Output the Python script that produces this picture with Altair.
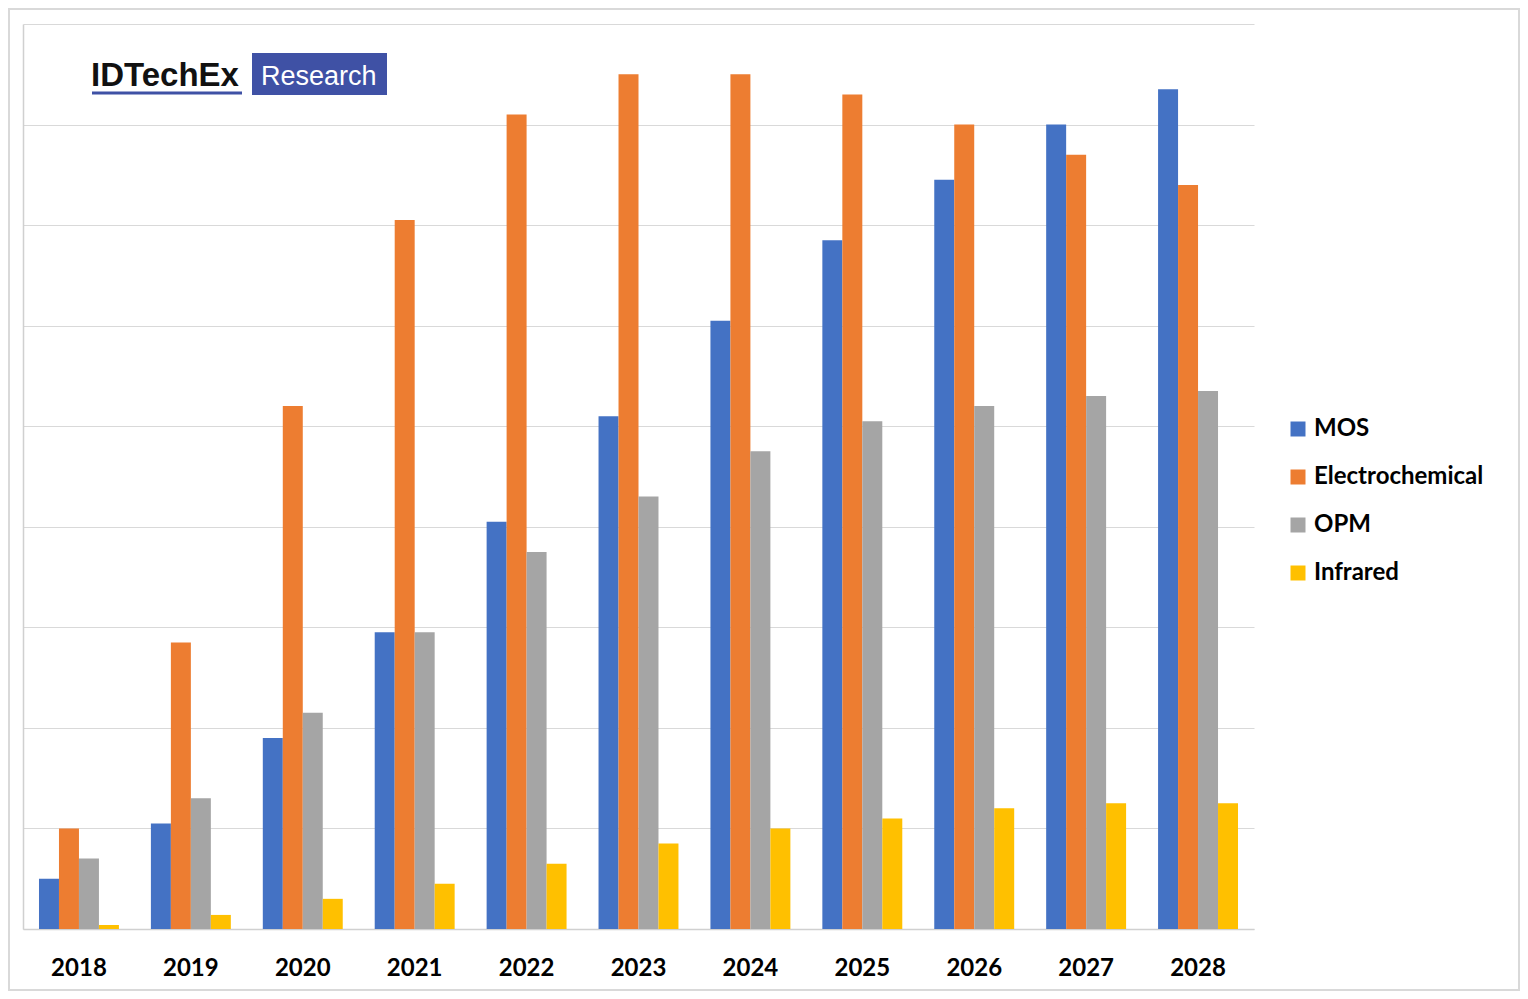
import altair as alt
import pandas as pd

years = ["2018", "2019", "2020", "2021", "2022", "2023", "2024", "2025", "2026", "2027", "2028"]
series = ["MOS", "Electrochemical", "OPM", "Infrared"]
mos = [0.5, 1.05, 1.9, 2.95, 4.05, 5.1, 6.05, 6.85, 7.45, 8.0, 8.35]
electro = [1.0, 2.85, 5.2, 7.05, 8.1, 8.5, 8.5, 8.3, 8.0, 7.7, 7.4]
opm = [0.7, 1.3, 2.15, 2.95, 3.75, 4.3, 4.75, 5.05, 5.2, 5.3, 5.35]
infrared = [0.04, 0.14, 0.3, 0.45, 0.65, 0.85, 1.0, 1.1, 1.2, 1.25, 1.25]
colors = ["#4472C4", "#ED7D31", "#A5A5A5", "#FFC000"]

rows = []
for name, vals in zip(series, [mos, electro, opm, infrared]):
    for y, v in zip(years, vals):
        rows.append({"year": y, "series": name, "value": v})
df = pd.DataFrame(rows)

W, H = 1231, 905
FONT = "Lato"

bars = alt.Chart(df).mark_bar().encode(
    x=alt.X("year:N", sort=years, title=None,
            scale=alt.Scale(paddingInner=0.2857, paddingOuter=0.1429),
            axis=alt.Axis(labelAngle=0, labelFontSize=24, labelFont=FONT, labelFontWeight="bold",
                          labelColor="#000000", labelPadding=27, ticks=False,
                          domainColor="#D0D0D0", domainWidth=1.5, grid=False)),
    xOffset=alt.XOffset("series:N", sort=series, scale=alt.Scale(paddingInner=0, paddingOuter=0)),
    y=alt.Y("value:Q", title=None, scale=alt.Scale(domain=[0, 9], nice=False),
            axis=alt.Axis(values=list(range(10)), labels=False, ticks=False,
                          domainColor="#D0D0D0", domainWidth=1.5,
                          gridColor="#D9D9D9", gridWidth=1)),
    color=alt.Color("series:N", sort=series,
                    scale=alt.Scale(domain=series, range=colors),
                    legend=alt.Legend(title=None, orient="none", legendX=1263, legendY=393,
                                      symbolType="square", symbolSize=225, symbolStrokeWidth=0,
                                      labelFontSize=24, labelFont=FONT, labelFontWeight="bold",
                                      labelColor="#000000", rowPadding=24, labelOffset=4,
                                      labelLimit=0, padding=0)),
)

one = pd.DataFrame({"a": [1]})
logo_text = alt.Chart(one).mark_text(text="IDTechEx", font="Liberation Sans", fontSize=33,
                                     fontWeight="bold", align="left", baseline="alphabetic",
                                     color="#111111").encode(x=alt.value(68), y=alt.value(62))
logo_line = alt.Chart(one).mark_rule(color="#3F51A5", strokeWidth=3).encode(
    x=alt.value(69), x2=alt.value(219), y=alt.value(69))
logo_box = alt.Chart(one).mark_rect(color="#3F51A5").encode(
    x=alt.value(229), x2=alt.value(364), y=alt.value(29), y2=alt.value(71))
logo_box_text = alt.Chart(one).mark_text(text="Research", font="Liberation Sans", fontSize=27,
                                         align="left", baseline="alphabetic",
                                         color="#FFFFFF").encode(x=alt.value(238), y=alt.value(61))
border = alt.Chart(one).mark_rect(fill=None, stroke="#D9D9D9", strokeWidth=2, clip=False).encode(
    x=alt.value(-14), x2=alt.value(1496), y=alt.value(-15), y2=alt.value(966))

chart = alt.layer(bars, logo_text, logo_line, logo_box, logo_box_text, border).properties(
    width=W, height=H, autosize=alt.AutoSizeParams(type="none"),
    padding={"left": 15, "top": 16, "right": 266, "bottom": 62},
    background="#FFFFFF",
).configure_view(stroke=None)

chart.save("out.html", embed_options={"renderer": "svg", "actions": False})
